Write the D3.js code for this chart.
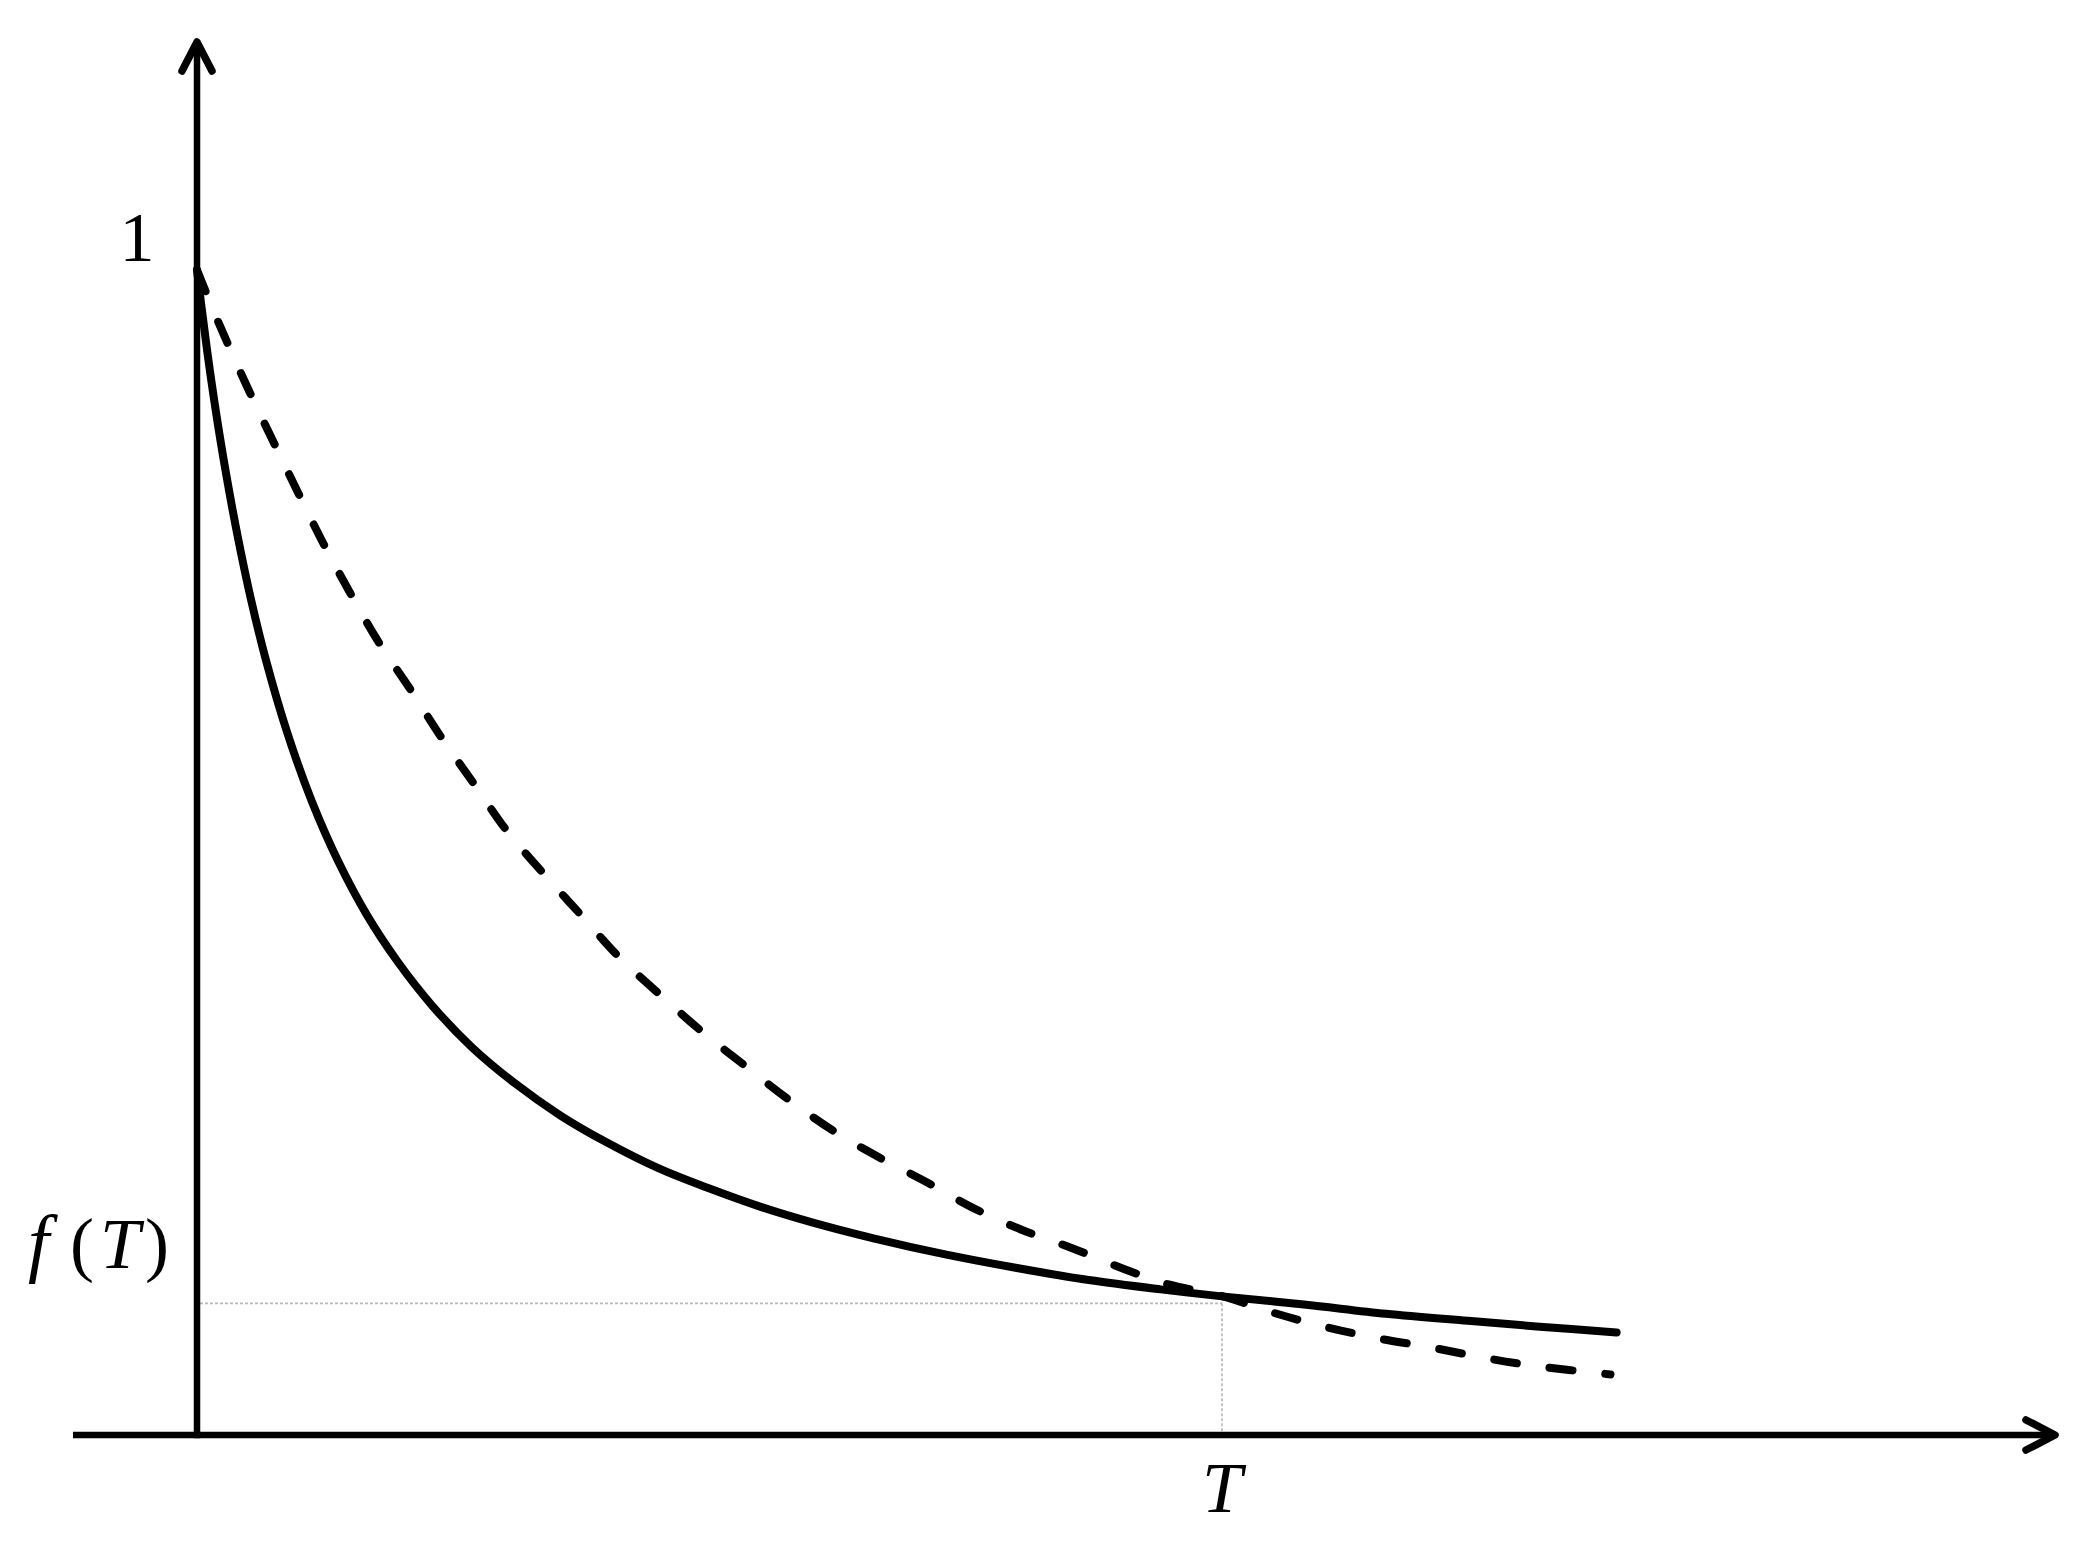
<!DOCTYPE html>
<html>
<head>
<meta charset="utf-8">
<script src="https://cdn.jsdelivr.net/npm/d3@7"></script>
<style>
  html, body { margin: 0; padding: 0; background: #ffffff; }
  svg { display: block; }
</style>
</head>
<body>
<svg id="chart" width="2079" height="1554"></svg>
<script>
// ---- data (x in units of T, y in units of f(0)=1) ----
const solidX = [0, 0.004, 0.010, 0.018, 0.028, 0.040, 0.053, 0.067, 0.088, 0.112, 0.138, 0.166, 0.196,
  0.230, 0.268, 0.310, 0.355, 0.400, 0.450, 0.500, 0.550, 0.600, 0.660, 0.730, 0.800, 0.870, 0.940,
  1.000, 1.080, 1.160, 1.240, 1.310, 1.385];
const solidY = [1.0, 0.971, 0.930, 0.881, 0.827, 0.770, 0.716, 0.666, 0.603, 0.544, 0.492, 0.446, 0.406,
  0.368, 0.333, 0.302, 0.274, 0.251, 0.229, 0.2115, 0.1958, 0.1825, 0.1688, 0.155, 0.1433, 0.133, 0.125,
  0.119, 0.112, 0.104, 0.098, 0.093, 0.088];

const dashedX = [0, 0.0205, 0.0488, 0.0732, 0.0991, 0.1234, 0.1493, 0.1776, 0.2074, 0.239, 0.271, 0.302,
  0.338, 0.375, 0.412, 0.453, 0.493, 0.536, 0.577, 0.621, 0.664, 0.712, 0.757, 0.805, 0.852, 0.900,
  0.949, 1.001, 1.050, 1.100, 1.152, 1.205, 1.257, 1.308, 1.379];
const dashedY = [1.0, 0.956, 0.900, 0.855, 0.808, 0.765, 0.723, 0.680, 0.641, 0.598, 0.558, 0.519,
  0.482, 0.446, 0.410, 0.377, 0.346, 0.316, 0.288, 0.261, 0.239, 0.217, 0.195, 0.176, 0.161, 0.144,
  0.129, 0.119, 0.105, 0.093, 0.083, 0.075, 0.066, 0.059, 0.052];

const yTickValues = [1];
const yTickLabels = ["1"];
const markT = 1;          // position of T on the x axis
const markFT = 0.113;     // value f(T)
const xAxisExtent = [-0.121, 1.8127];
const yAxisExtent = [0, 1.1957];

// ---- drawing ----
const svg = d3.select("#chart");
const x = d3.scaleLinear().domain([0, 1]).range([197, 1222]);
const y = d3.scaleLinear().domain([0, 1]).range([1435, 270]);

const serif = "'Liberation Serif', 'DejaVu Serif', serif";

// guide lines (light grey dotted)
svg.append("line")
  .attr("x1", x(0) + 3).attr("x2", x(markT))
  .attr("y1", y(markFT)).attr("y2", y(markFT))
  .attr("stroke", "#b8b8b8").attr("stroke-width", 1.6)
  .attr("stroke-dasharray", "3,2");
svg.append("line")
  .attr("x1", x(markT)).attr("x2", x(markT))
  .attr("y1", y(markFT)).attr("y2", y(0))
  .attr("stroke", "#b8b8b8").attr("stroke-width", 1.6)
  .attr("stroke-dasharray", "3,2");

// axes
const axisW = 6.5;
svg.append("line")
  .attr("x1", x(xAxisExtent[0])).attr("x2", x(xAxisExtent[1]) - 3)
  .attr("y1", y(0)).attr("y2", y(0))
  .attr("stroke", "#000").attr("stroke-width", axisW);
svg.append("line")
  .attr("x1", x(0)).attr("x2", x(0))
  .attr("y1", y(0) + axisW / 2).attr("y2", y(yAxisExtent[1]) + 3)
  .attr("stroke", "#000").attr("stroke-width", axisW);

// arrowheads (open chevrons)
const xt = [x(xAxisExtent[1]), y(0)];
svg.append("path")
  .attr("d", `M${xt[0] - 29},${xt[1] - 15} L${xt[0]},${xt[1]} L${xt[0] - 29},${xt[1] + 15}`)
  .attr("fill", "none").attr("stroke", "#000").attr("stroke-width", 7.5)
  .attr("stroke-linecap", "round").attr("stroke-linejoin", "round");
const yt = [x(0), y(yAxisExtent[1])];
svg.append("path")
  .attr("d", `M${yt[0] - 15},${yt[1] + 29} L${yt[0]},${yt[1]} L${yt[0] + 15},${yt[1] + 29}`)
  .attr("fill", "none").attr("stroke", "#000").attr("stroke-width", 7.5)
  .attr("stroke-linecap", "round").attr("stroke-linejoin", "round");

// curves
const line = d3.line().x(d => x(d[0])).y(d => y(d[1])).curve(d3.curveCatmullRom.alpha(0.5));
const solid = solidX.map((v, i) => [v, solidY[i]]);
const dashed = dashedX.map((v, i) => [v, dashedY[i]]);

svg.append("path").datum(dashed)
  .attr("d", line)
  .attr("fill", "none").attr("stroke", "#000").attr("stroke-width", 8)
  .attr("stroke-linecap", "round")
  .attr("stroke-dasharray", "23,33");

svg.append("path").datum(solid)
  .attr("d", line)
  .attr("fill", "none").attr("stroke", "#000").attr("stroke-width", 8)
  .attr("stroke-linecap", "round");

// labels
yTickValues.forEach((v, i) => {
  svg.append("text")
    .attr("x", 137).attr("y", y(v) - 9)
    .attr("text-anchor", "middle")
    .attr("font-family", serif).attr("font-size", 70)
    .attr("fill", "#000")
    .text(yTickLabels[i]);
});

// f(T) label on the y axis
const fty = 1268;
const ftParts = [
  { t: "f", x: 28, italic: true, size: 76 },
  { t: "(", x: 70, italic: false, size: 72 },
  { t: "T", x: 100, italic: true, size: 72 },
  { t: ")", x: 145, italic: false, size: 72 }
];
ftParts.forEach(p => {
  svg.append("text")
    .attr("x", p.x).attr("y", fty)
    .attr("font-family", serif).attr("font-size", p.size)
    .attr("font-style", p.italic ? "italic" : "normal")
    .attr("fill", "#000")
    .text(p.t);
});

// T label on the x axis
svg.append("text")
  .attr("x", x(markT)).attr("y", 1512)
  .attr("text-anchor", "middle")
  .attr("font-family", serif).attr("font-size", 72)
  .attr("font-style", "italic")
  .attr("fill", "#000")
  .text("T");
</script>
</body>
</html>
